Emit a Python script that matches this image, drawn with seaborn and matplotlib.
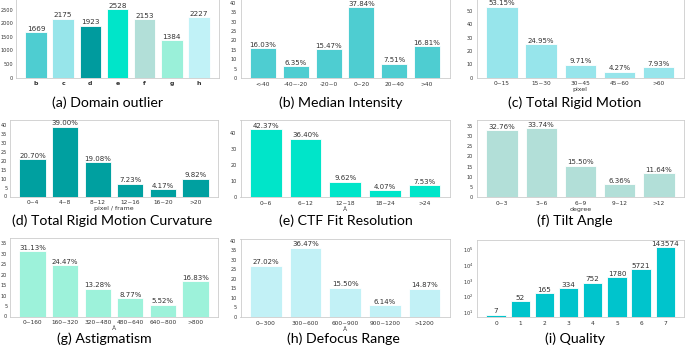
import matplotlib
matplotlib.use("Agg")
import matplotlib.pyplot as plt
from matplotlib.ticker import MultipleLocator, NullLocator, LogLocator
import seaborn as sns
import pandas as pd

sns.set_style("white")
plt.rcParams["font.family"] = ["DejaVu Sans"]

# ---------------- data ----------------
domain_cats = ["b", "c", "d", "e", "f", "g", "h"]
domain_vals = [1669, 2175, 1923, 2528, 2153, 1384, 2227]
domain_colors = ["#4ECDD1", "#97E5EA", "#009B9E", "#00E5C9", "#B2DFD8", "#9AF0D9", "#C1F2F7"]

intensity_cats = ["<-40", "-40~-20", "-20~0", "0~20", "20~40", ">40"]
intensity_vals = [16.03, 6.35, 15.47, 37.84, 7.51, 16.81]

motion_cats = ["0~15", "15~30", "30~45", "45~60", ">60"]
motion_vals = [53.15, 24.95, 9.71, 4.27, 7.93]

curv_cats = ["0~4", "4~8", "8~12", "12~16", "16~20", ">20"]
curv_vals = [20.70, 39.00, 19.08, 7.23, 4.17, 9.82]

ctf_cats = ["0~6", "6~12", "12~18", "18~24", ">24"]
ctf_vals = [42.37, 36.40, 9.62, 4.07, 7.53]

tilt_cats = ["0~3", "3~6", "6~9", "9~12", ">12"]
tilt_vals = [32.76, 33.74, 15.50, 6.36, 11.64]

astig_cats = ["0~160", "160~320", "320~480", "480~640", "640~800", ">800"]
astig_vals = [31.13, 24.47, 13.28, 8.77, 5.52, 16.83]

defocus_cats = ["0~300", "300~600", "600~900", "900~1200", ">1200"]
defocus_vals = [27.02, 36.47, 15.50, 6.14, 14.87]

quality_cats = ["0", "1", "2", "3", "4", "5", "6", "7"]
quality_vals = [7, 52, 165, 334, 752, 1780, 5721, 143574]

# ---------------- layout ----------------
W, H = 685, 352
fig = plt.figure(figsize=(W / 100, H / 100), dpi=100)

def add_ax(l, r, t, b):
    return fig.add_axes([l / W, 1 - b / H, (r - l) / W, (b - t) / H])

panels = [
    # cats, vals, colors, fmt, xlabel, caption, box(l,r,t,b), ylim, ystep, log, caption(x,y)
    (domain_cats, domain_vals, domain_colors, "%d", "", "(a) Domain outlier",
     (16, 219, -1, 77.5), (0, 2907), 500, False, (108, 103)),
    (intensity_cats, intensity_vals, "#4ECDD1", "%.2f%%", "", "(b) Median Intensity",
     (240.5, 449.5, -1, 78), (0, 42.1), 5, False, (341, 103)),
    (motion_cats, motion_vals, "#97E5EB", "%.2f%%", "pixel", "(c) Total Rigid Motion",
     (477, 683.5, -1, 77.5), (0, 59), 10, False, (575, 103)),
    (curv_cats, curv_vals, "#00A0A0", "%.2f%%", "pixel / frame", "(d) Total Rigid Motion Curvature",
     (10, 218, 119.5, 196.5), (0, 43), 5, False, (112, 221)),
    (ctf_cats, ctf_vals, "#00E5C9", "%.2f%%", "Å", "(e) CTF Fit Resolution",
     (240.5, 450, 120, 197), (0, 48), 10, False, (346, 221)),
    (tilt_cats, tilt_vals, "#B2DFD8", "%.2f%%", "degree", "(f) Tilt Angle",
     (477, 684, 120, 197), (0, 37.9), 5, False, (575, 221)),
    (astig_cats, astig_vals, "#9DF2DA", "%.2f%%", "Å", "(g) Astigmatism",
     (10, 218, 238, 316.5), (0, 37.4), 5, False, (104, 339)),
    (defocus_cats, defocus_vals, "#C2F1F6", "%.2f%%", "Å", "(h) Defocus Range",
     (240.5, 450, 239, 317), (0, 41), 5, False, (343, 339)),
    (quality_cats, quality_vals, "#00C4CC", "%d", "", "(i) Quality",
     (477, 684.4, 240, 317), (5, 4e5), None, True, (575, 339)),
]

for cats, vals, col, fmt, xlabel, caption, box, ylim, ystep, logy, cpos in panels:
    ax = add_ax(*box)
    df = pd.DataFrame({"cat": cats, "val": vals})
    if isinstance(col, list):
        sns.barplot(data=df, x="cat", y="val", hue="cat", palette=col, legend=False,
                    saturation=1, edgecolor="white", linewidth=0.6, ax=ax)
    else:
        sns.barplot(data=df, x="cat", y="val", color=col, saturation=1,
                    edgecolor="white", linewidth=0.6, ax=ax)
    n = len(cats)
    m = 0.05 * (n - 0.2)
    ax.set_xlim(-0.4 - m, n - 0.6 + m)
    if logy:
        ax.set_yscale("log")
        ax.yaxis.set_major_locator(LogLocator(base=10, numticks=10))
        ax.yaxis.set_minor_locator(NullLocator())
    else:
        ax.yaxis.set_major_locator(MultipleLocator(ystep))
    ax.set_ylim(*ylim)
    for c in ax.containers:
        ax.bar_label(c, fmt=fmt, fontsize=5.2 if fmt == "%d" else 5, padding=0.3, color="#333333")
    ax.set_ylabel("")
    ax.set_xlabel(xlabel, fontsize=4.5, labelpad=0.5, color="#333333")
    ax.tick_params(axis="both", length=2, width=0.5, color="#999999", pad=0.8, labelcolor="#333333")
    ax.tick_params(axis="x", labelsize=4.2)
    ax.tick_params(axis="y", labelsize=3.6)
    if box[0] < 20:
        ax.tick_params(axis="y", length=1.5, pad=0.5)
    if isinstance(col, list):
        for t in ax.get_xticklabels():
            t.set_fontweight("bold")
            t.set_fontsize(4.5)
    for s in ax.spines.values():
        s.set_color("#cccccc")
        s.set_linewidth(0.6)
    fig.text(cpos[0] / W, 1 - cpos[1] / H, caption, ha="center", va="center",
             fontsize=10.2, family="Lato", color="black")

fig.savefig("out.png", dpi=100)
